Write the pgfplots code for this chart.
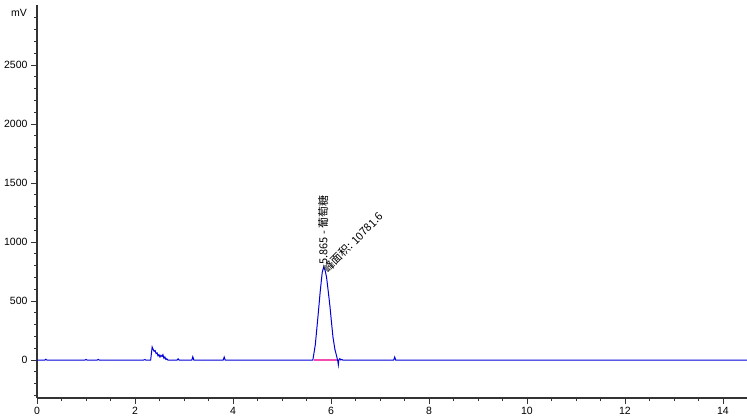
\documentclass[border=0pt]{standalone}
\usepackage{fontspec}
\setmainfont{Liberation Sans}
\newfontfamily\cjk{Noto Sans CJK SC}
\usepackage{pgfplots}
\pgfplotsset{compat=1.18}
\begin{document}
\begin{tikzpicture}
\begin{axis}[
  scale only axis, width=710pt, height=393pt,
  xmin=0, xmax=14.49, ymin=-322, ymax=3009,
  axis lines=left, axis line style={-, draw=black!80, line width=1.1pt},
  xtick={0,2,...,14}, ytick={0,500,...,2500},
  minor xtick={0.5,1,...,14.5}, minor ytick={-300,-200,...,2900},
  tick align=outside, major tick length=6pt, minor tick length=3pt,
  tick style={black!80, line width=0.8pt},
  ticklabel style={font=\fontsize{10.5}{12}\selectfont},
  /pgf/number format/assume math mode=true,
  /pgf/number format/1000 sep={},
  clip=false,
]
\addplot[magenta!70, line width=1.2pt] coordinates {(5.65,0) (6.14,0)};
\addplot[blue!85!black, line width=1pt] coordinates {
(0,0) (0.16,0) (0.18,6) (0.20,0) (0.98,0) (1.0,5) (1.02,0) (1.23,0) (1.25,5) (1.27,0)
(2.18,0) (2.2,4) (2.22,0) (2.32,0) (2.35,110) (2.37,90) (2.39,75) (2.41,80) (2.43,55)
(2.45,60) (2.47,35) (2.49,45) (2.51,25) (2.53,40) (2.55,30) (2.57,45) (2.59,15) (2.61,25)
(2.63,5) (2.65,10) (2.67,0) (2.86,0) (2.88,10) (2.90,0) (3.16,0) (3.18,28) (3.20,0)
(3.80,0) (3.82,25) (3.84,0) (5.63,0) (5.68,130) (5.73,350) (5.78,580) (5.82,740)
(5.85,788) (5.88,760) (5.91,700) (5.95,560) (5.98,450) (6.01,320) (6.04,195) (6.08,90)
(6.12,25) (6.14,-10) (6.15,-40) (6.16,0) (6.18,12) (6.20,0) (6.22,5) (6.24,0)
(7.28,0) (7.30,25) (7.32,0) (14.49,0)
};
\addplot[magenta!70, line width=1.2pt] coordinates {(5.70,0) (6.10,0)};
\node[anchor=west, rotate=90, inner sep=0pt, font=\cjk\fontsize{11}{13}\selectfont] at (axis cs:5.84,805) {5.865 - 葡萄糖};
\node[anchor=west, rotate=45, inner sep=0pt, font=\cjk\fontsize{11}{13}\selectfont] at (axis cs:5.88,760) {峰面积: 10781.6};
\node[anchor=east, inner sep=0pt, font=\fontsize{10.5}{12}\selectfont] at ([xshift=-10pt]axis cs:0,2940) {mV};
\end{axis}
\pgfresetboundingbox
\useasboundingbox (current axis.south west) ++(-37pt,-18pt) rectangle ++(747pt,416pt);
\end{tikzpicture}
\end{document}
